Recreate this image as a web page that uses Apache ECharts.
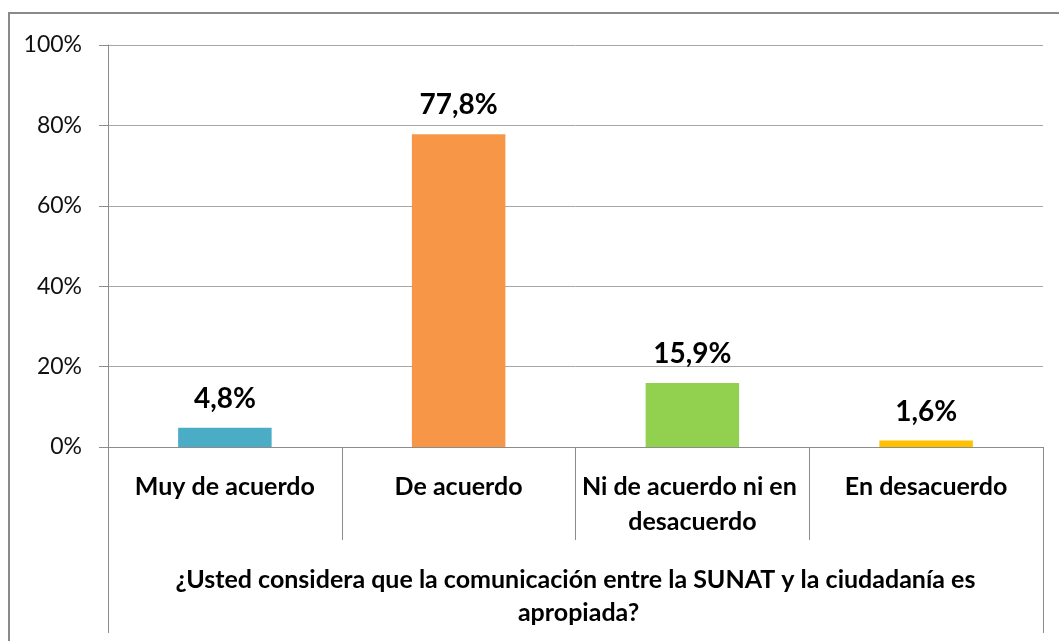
<!DOCTYPE html>
<html>
<head>
<meta charset="utf-8">
<script src="https://cdn.jsdelivr.net/npm/echarts@6/dist/echarts.min.js"></script>
<style>
  html, body { margin: 0; padding: 0; background: #fff; }
  #chart { width: 1059px; height: 641px; }
</style>
</head>
<body>
<div id="chart"></div>
<script>
// Survey answers and their shares (fractions of 1)
const categories = ['Muy de acuerdo', 'De acuerdo', 'Ni de acuerdo ni en desacuerdo', 'En desacuerdo'];
const shares = [0.048, 0.778, 0.159, 0.016];
const barColors = ['#4BACC6', '#F79646', '#92D050', '#FFC000'];
const question = ['¿Usted considera que la comunicación entre la SUNAT y la ciudadanía es apropiada?'];
const yTicks = [0, 0.2, 0.4, 0.6, 0.8, 1];

const FONT = 'Lato, "Open Sans", sans-serif';
const AXIS_GRAY = '#8C8C8C';

const fmtPct = v => (v * 100).toFixed(1).replace('.', ',') + '%';

const chart = echarts.init(document.getElementById('chart'), null, { renderer: 'canvas' });

chart.setOption({
  backgroundColor: '#fff',
  animation: false,
  textStyle: { fontFamily: FONT },
  grid: { left: 108, right: 16, top: 45, bottom: 194, containLabel: false },
  graphic: [{
    type: 'rect',
    shape: { x: 9, y: 13, width: 1200, height: 800 },
    style: { fill: 'none', stroke: '#8A8A8A', lineWidth: 2 },
    silent: true
  }],
  xAxis: [
    {
      type: 'category',
      data: categories,
      position: 'bottom',
      axisLine: { show: true, lineStyle: { color: AXIS_GRAY, width: 1 } },
      axisTick: { show: true, interval: 0, length: 93, lineStyle: { color: AXIS_GRAY } },
      axisLabel: {
        interval: 0,
        margin: 22,
        width: 225,
        overflow: 'break',
        lineHeight: 35,
        fontSize: 25,
        fontWeight: 'bold',
        color: '#000',
        fontFamily: FONT
      }
    },
    {
      type: 'category',
      data: question,
      position: 'bottom',
      gridIndex: 0,
      axisLine: { show: false },
      axisTick: { show: true, interval: 0, length: 186, lineStyle: { color: AXIS_GRAY } },
      axisLabel: {
        interval: 0,
        margin: 116,
        width: 850,
        overflow: 'break',
        lineHeight: 33,
        fontSize: 25,
        fontWeight: 'bold',
        color: '#000',
        fontFamily: FONT
      }
    }
  ],
  yAxis: {
    type: 'value',
    min: yTicks[0],
    max: yTicks[yTicks.length - 1],
    interval: yTicks[1] - yTicks[0],
    axisLine: { show: true, lineStyle: { color: AXIS_GRAY, width: 1 } },
    axisTick: { show: true, length: 9, lineStyle: { color: AXIS_GRAY } },
    splitLine: { show: true, lineStyle: { color: '#A6A6A6', width: 1 } },
    axisLabel: {
      margin: 26,
      fontSize: 23,
      color: '#111',
      fontFamily: FONT,
      formatter: v => Math.round(v * 100) + '%'
    }
  },
  series: [{
    type: 'bar',
    xAxisIndex: 0,
    barWidth: '40%',
    data: shares.map((v, i) => ({ value: v, itemStyle: { color: barColors[i] } })),
    label: {
      show: true,
      position: 'top',
      distance: 15,
      fontSize: 28,
      fontWeight: 'bold',
      color: '#000',
      fontFamily: FONT,
      formatter: p => fmtPct(p.value)
    }
  }]
});
</script>
</body>
</html>
